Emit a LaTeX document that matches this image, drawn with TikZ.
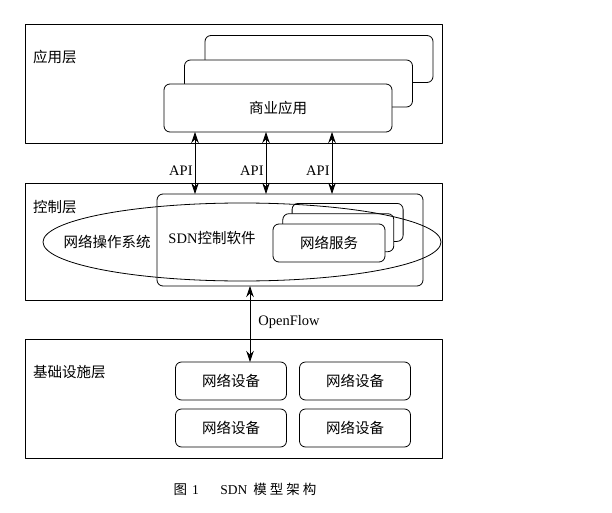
\documentclass[tikz,border=0pt]{standalone}
\usepackage{fontspec}
\setmainfont{Liberation Serif}
\newfontfamily\cjk{Noto Sans CJK SC}
\usetikzlibrary{arrows.meta}

\begin{document}
\begin{tikzpicture}[x=1pt, y=-1pt, font=\fontsize{14.5}{17}\selectfont, line join=round, >={Stealth[length=11pt,width=7.5pt]},
	layer/.style={draw, line width=0.7pt, minimum width=417pt, outer sep=0pt},
	card/.style={draw, fill=white, rounded corners=6pt, line width=0.8pt, outer sep=0pt},
	tag/.style={anchor=west, inner sep=0pt}]
	\useasboundingbox (0,0) rectangle (612,513);
	%Các tầng
	\node[layer, minimum height=119pt] (appL) at (233.5,83.5) {};
	\node[layer, minimum height=117pt] (ctlL) at (233.5,241.5) {};
	\node[layer, minimum height=119pt] (infL) at (233.5,398.5) {};
	\node[tag] (appT) at (33,57) {\cjk 应用层};
	\node[tag] (ctlT) at (33,207) {\cjk 控制层};
	\node[tag] (infT) at (33,372) {\cjk 基础设施层};
	%Ứng dụng xếp chồng
	\foreach \i in {3,2}
	\node[card, minimum width=228pt, minimum height=47pt] (app\i) at ({278+20.5*(\i-1)},{108-24.5*(\i-1)}) {};
	\node[card, minimum width=228pt, minimum height=48pt] (app1) at (278,108) {\cjk 商业应用};
	%Phần mềm điều khiển
	\node[card, fill=none, minimum width=266pt, minimum height=92pt] (sdn) at (290,240) {};
	\node (sdnT) at (212,238) {SDN\cjk 控制软件};
	\foreach \i in {3,2}
	\node[card, minimum width=111pt, minimum height=38pt] (srv\i) at ({329+9.3*(\i-1)},{243-10.3*(\i-1)}) {};
	\node[card, minimum width=112pt, minimum height=38pt] (srv1) at (329,243) {\cjk 网络服务};
	\draw[line width=0.8pt] (242,242) ellipse (199 and 39);
	\node (nos) at (107,242) {\cjk 网络操作系统};
	%Thiết bị mạng
	\foreach \x/\y [count=\i] in {231/381,355/381,231/428,355/428}
	\node[card, minimum width=111pt, minimum height=38pt] (dev\i) at (\x,\y) {\cjk 网络设备};
	%Giao diện API
	\foreach \x [count=\i] in {195,266,332}{
		\path (\x,0) coordinate (api\i);
		\draw[<->, line width=0.8pt] (app1.south -| api\i) -- (sdn.north -| api\i) node[left, pos=0.62, inner sep=2pt] {API};
	}
	\path (250,0) coordinate (of);
	\draw[<->, line width=0.8pt] (sdn.south -| of) -- (dev1.north -| of) node[right=8pt, pos=0.47, inner sep=0pt] {OpenFlow};
	%Chú thích
	\node[font=\fontsize{13.5}{15}\selectfont] (cap) at (245,489) {\cjk 图\hspace{5pt}\rmfamily 1\hspace{1.6em}SDN\hspace{6pt}\cjk 模\hspace{3pt}型\hspace{3pt}架\hspace{3pt}构};
\end{tikzpicture}
\end{document}
